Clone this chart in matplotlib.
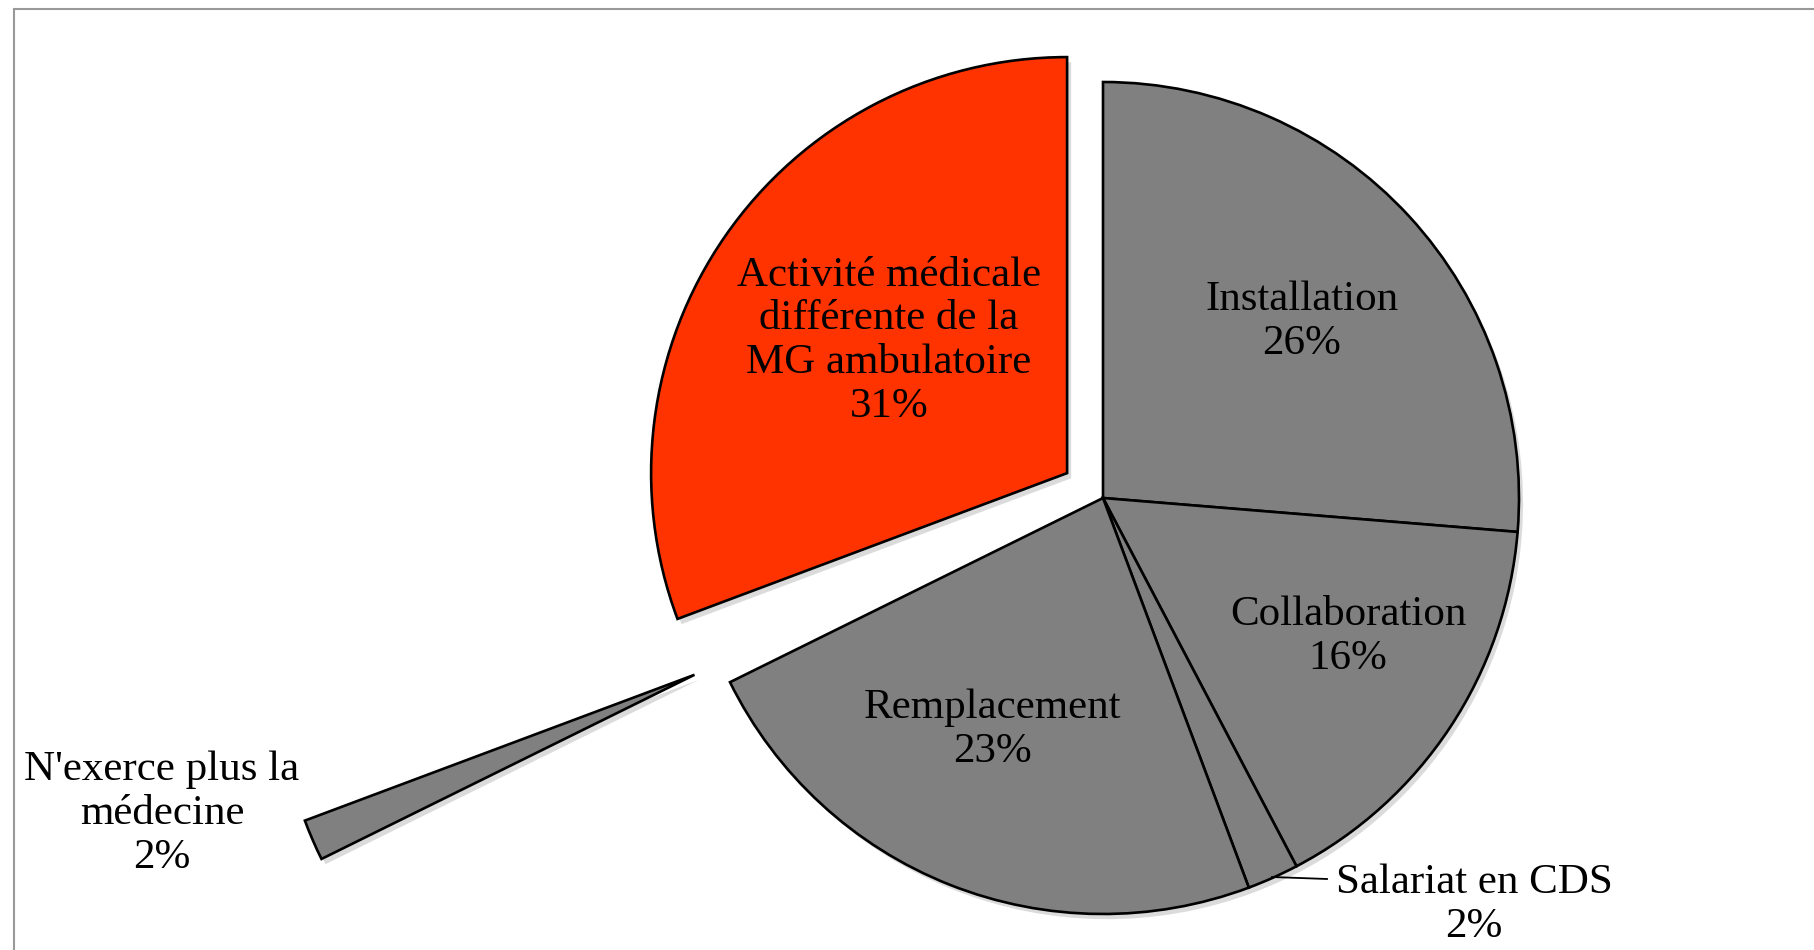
import matplotlib.pyplot as plt
from matplotlib.patches import Rectangle

# data
labels = ["Installation", "Collaboration", "Salariat en CDS", "Remplacement",
          "N'exerce plus la\nmédecine", "Activité médicale\ndifférente de la\nMG ambulatoire"]
values = [26.3, 16.0, 2.0, 23.4, 1.6, 30.7]
explode = [0, 0, 0, 0, 1.07, 0.105]
colors = ["#808080", "#808080", "#808080", "#808080", "#808080", "#FF3300"]

plt.rcParams['font.family'] = ['Liberation Serif', 'DejaVu Serif']

fig = plt.figure(figsize=(18.14, 9.5), dpi=100)
ax = fig.add_axes([0, 0, 1, 1])

R = 416.0  # pie radius in pixels
cx, cy = 1103.0, 498.0

wedges, _ = ax.pie(values, explode=explode, colors=colors, startangle=90,
                   counterclock=False, radius=1.0, center=(0, 0),
                   wedgeprops=dict(edgecolor='black', linewidth=1.9),
                   shadow=dict(ox=0.007, oy=-0.009, facecolor='#999999',
                               edgecolor='none', alpha=0.35))
ax.set_xlim(-cx / R, (1814 - cx) / R)
ax.set_ylim(-(950 - cy) / R, cy / R)
ax.set_aspect('equal')
ax.axis('off')


def px(x, y):
    return ((x - cx) / R, (cy - y) / R)


pct = [round(v) for v in values]
fs = 31
txt = [
    (labels[5] + "\n%d%%" % pct[5], px(889, 341)),
    (labels[0] + "\n%d%%" % pct[0], px(1302, 322)),
    (labels[1] + "\n%d%%" % pct[1], px(1348, 637)),
    (labels[3] + "\n%d%%" % pct[3], px(993, 730)),
    (labels[4] + "\n%d%%" % pct[4], px(162, 814)),
    (labels[2] + "\n%d%%" % pct[2], px(1474, 905)),
]
for s, (x, y) in txt:
    ax.text(x, y, s, ha='center', va='center', fontsize=fs, linespacing=1.18)

# leader line for Salariat
p1 = px(1272, 877)
p2 = px(1327, 879)
ax.plot([p1[0], p2[0]], [p1[1], p2[1]], color='black', lw=1.3)

# outer frame
fig.patches.append(Rectangle((14 / 1814, -0.1), 1.2, (950 - 9) / 950 + 0.1,
                             transform=fig.transFigure, fill=False,
                             edgecolor='#999999', lw=1.5))

fig.savefig('out.png', dpi=100)
